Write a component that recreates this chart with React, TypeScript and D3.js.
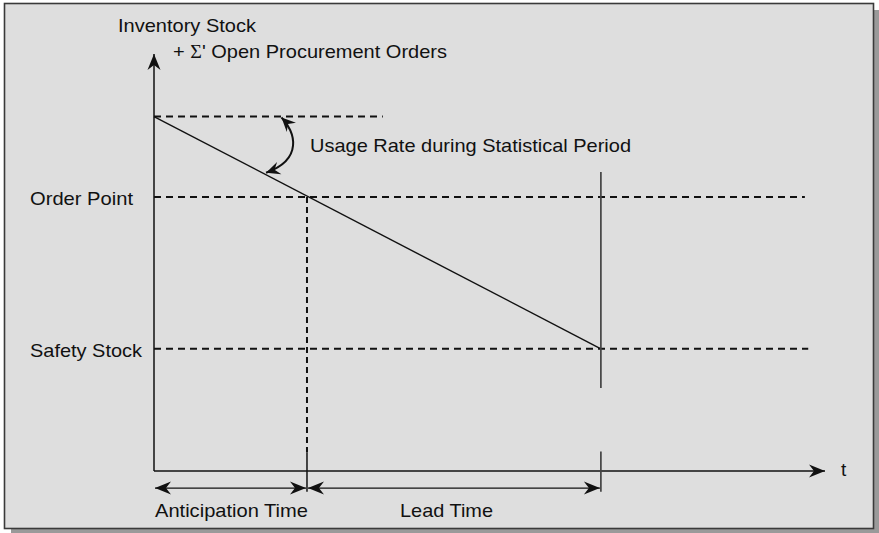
import React from "react";
import * as d3 from "d3";

// values (time and stock in arbitrary units, 0..100)
const yTitle = ["Inventory Stock", "Open Procurement Orders"];
const levelNames = ["Order Point", "Safety Stock"];
const levelValues = [65.7, 29.3];
const startStock = 85;
const timeMarks = [0, 22.8, 66.6]; // start, order point reached, end of lead time
const spanLabels = ["Anticipation Time", "Lead Time"];
const usageLabel = "Usage Rate during Statistical Period";

const W = 879;
const H = 533;
const font = "'Liberation Sans', Arial, sans-serif";
const ink = "#111";
const dash = "7,5";
const fs = 19;

const x = d3.scaleLinear().domain([0, 100]).range([154, 825]);
const y = d3.scaleLinear().domain([0, 100]).range([471, 54]);

const Label = ({ x, y, w, children, anchor = "start" }: any) => (
  <text
    x={x}
    y={y}
    fontFamily={font}
    fontSize={fs}
    fill={ink}
    textAnchor={anchor}
    textLength={w}
    lengthAdjust="spacingAndGlyphs"
  >
    {children}
  </text>
);

export default function App() {
  const usage = d3.line()([
    [x(timeMarks[0]), y(startStock)],
    [x(timeMarks[2]), y(levelValues[1])],
  ]);
  const slope = (levelValues[1] - startStock) / (timeMarks[2] - timeMarks[0]);

  // curved arrow between the top dashed line and the usage line
  const a0 = [x(19), y(startStock) + 1];
  const tb = 16.7;
  const a1 = [x(tb), y(startStock + slope * tb) - 2];
  const curve = d3.path();
  curve.moveTo(a0[0], a0[1]);
  curve.bezierCurveTo(a0[0] + 14, a0[1] + 14, a0[0] + 22, a0[1] + 42, a1[0], a1[1]);

  const arrowY = y(-4.1);
  const x0 = x(timeMarks[0]);
  const x1 = x(timeMarks[1]);
  const x2 = x(timeMarks[2]);

  return (
    <svg width={W} height={H} style={{ position: "absolute", left: 0, top: 0 }}>
      <defs>
        <marker
          id="head"
          viewBox="-17 -8 19 16"
          refX={0}
          refY={0}
          markerWidth={19}
          markerHeight={16}
          markerUnits="userSpaceOnUse"
          orient="auto-start-reverse"
        >
          <path d="M0,0 L-16,-6.5 L-11,0 L-16,6.5 Z" fill={ink} />
        </marker>
        <marker
          id="headSmall"
          viewBox="-16 -8 18 16"
          refX={0}
          refY={0}
          markerWidth={18}
          markerHeight={16}
          markerUnits="userSpaceOnUse"
          orient="auto-start-reverse"
        >
          <path d="M0,0 L-14,-6.5 L-9,0 L-14,6.5 Z" fill={ink} />
        </marker>
      </defs>

      {/* frame with drop shadow */}
      <rect x={11} y={10} width={868} height={523} fill="#9a9a9a" />
      <rect x={4.5} y={3.5} width={869} height={525} fill="#dedede" stroke="#3a3a3a" strokeWidth={1.6} />

      {/* axes */}
      <line x1={x0} y1={y(0)} x2={x0} y2={y(100)} stroke={ink} strokeWidth={1.5} markerEnd="url(#head)" />
      <line x1={x0} y1={y(0)} x2={x(100)} y2={y(0)} stroke={ink} strokeWidth={1.5} markerEnd="url(#head)" />
      <text x={x(100) + 16} y={y(0) + 5} fontFamily={font} fontSize={fs} fill={ink}>t</text>

      {/* y title */}
      <Label x={118} y={32} w={138}>{yTitle[0]}</Label>
      <text x={173} y={58} fontFamily={font} fontSize={fs} fill={ink} textLength={274} lengthAdjust="spacingAndGlyphs">
        +{" "}
        <tspan fontFamily="'Liberation Serif', 'Times New Roman', serif">Σ</tspan>' {yTitle[1]}
      </text>

      {/* initial stock dashed level */}
      <line x1={x0} y1={y(startStock)} x2={x(34.1)} y2={y(startStock)} stroke={ink} strokeWidth={2} strokeDasharray={dash} />

      {/* order point + safety stock levels */}
      {levelValues.map((v, i) => (
        <g key={levelNames[i]}>
          <line
            x1={x0}
            y1={y(v)}
            x2={x(i === 0 ? 97 : 97.5)}
            y2={y(v)}
            stroke={ink}
            strokeWidth={2}
            strokeDasharray={dash}
          />
          <Label x={30} y={y(v) + 8} w={i === 0 ? 103 : 112}>{levelNames[i]}</Label>
        </g>
      ))}

      {/* usage line */}
      <path d={usage || ""} stroke={ink} strokeWidth={1.4} fill="none" />

      {/* curved annotation arrow */}
      <path
        d={curve.toString()}
        stroke={ink}
        strokeWidth={2}
        fill="none"
        markerStart="url(#headSmall)"
        markerEnd="url(#headSmall)"
      />
      <Label x={310} y={152} w={321}>{usageLabel}</Label>

      {/* order point reached: dashed drop + tick */}
      <line x1={x1} y1={y(levelValues[0])} x2={x1} y2={y(4.5)} stroke={ink} strokeWidth={2} strokeDasharray="6,4" />
      <line x1={x1} y1={y(4.5)} x2={x1} y2={y(-5)} stroke={ink} strokeWidth={1.5} />

      {/* end of lead time */}
      <line x1={x2} y1={y(71.7)} x2={x2} y2={y(19.9)} stroke="#444" strokeWidth={1.7} />
      <line x1={x2} y1={y(4.7)} x2={x2} y2={y(-5)} stroke="#444" strokeWidth={1.7} />

      {/* span arrows */}
      <line x1={x0 + 1} y1={arrowY} x2={x1 - 1} y2={arrowY} stroke={ink} strokeWidth={1.3}
        markerStart="url(#head)" markerEnd="url(#head)" />
      <line x1={x1 + 1} y1={arrowY} x2={x2 - 1} y2={arrowY} stroke={ink} strokeWidth={1.3}
        markerStart="url(#head)" markerEnd="url(#head)" />
      <Label x={155} y={517} w={153}>{spanLabels[0]}</Label>
      <Label x={400} y={517} w={93}>{spanLabels[1]}</Label>
    </svg>
  );
}
